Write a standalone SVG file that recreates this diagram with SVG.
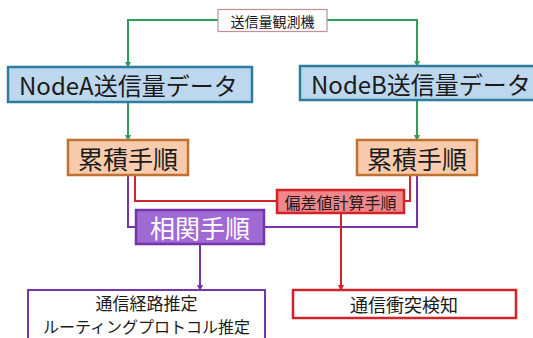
<svg xmlns="http://www.w3.org/2000/svg" width="533" height="338" viewBox="0 0 533 338">
<defs>
<style>
text{font-family:"Noto Sans CJK JP","Noto Sans",sans-serif;dominant-baseline:central;fill:#1a1a1a}
.c{text-anchor:middle}
.g{stroke:#2e9e5b;stroke-width:2;fill:none}
.r{stroke:#d32228;stroke-width:2;fill:none}
.p{stroke:#7535a8;stroke-width:2;fill:none}
.blue{fill:#bdd7ee;stroke:#2f7d9e;stroke-width:2.5}
.peach{fill:#f8cbad;stroke:#c0712f;stroke-width:2.5}
</style>
<marker id="ag" markerWidth="6" markerHeight="6" refX="5" refY="3" orient="auto" markerUnits="userSpaceOnUse"><path d="M0,0 L6,3 L0,6 z" fill="#2e9e5b"/></marker>
<marker id="ar" markerWidth="6" markerHeight="6" refX="5" refY="3" orient="auto" markerUnits="userSpaceOnUse"><path d="M0,0 L6,3 L0,6 z" fill="#d32228"/></marker>
<marker id="ap" markerWidth="6" markerHeight="6" refX="5" refY="3" orient="auto" markerUnits="userSpaceOnUse"><path d="M0,0 L6,3 L0,6 z" fill="#7535a8"/></marker>
</defs>
<rect width="533" height="338" fill="#ffffff"/>
<g id="connectors">
<path class="g" d="M218,20 H128 V67" marker-end="url(#ag)"/>
<path class="g" d="M327,20 H417 V66" marker-end="url(#ag)"/>
<path class="g" d="M128,102 V140" marker-end="url(#ag)"/>
<path class="g" d="M417,100 V140" marker-end="url(#ag)"/>
<path class="p" d="M128,175 V227 H136"/>
<path class="p" d="M417,175 V227 H264"/>
<path class="p" d="M200,244 V290" marker-end="url(#ap)"/>
<path class="r" d="M135,175 V201 H277"/>
<path class="r" d="M410,175 V201 H404"/>
<path class="r" d="M341,213 V290" marker-end="url(#ar)"/>
</g>
<g id="observer">
<rect x="218" y="9.5" width="109" height="22" fill="#ffffff" stroke="#c49090" stroke-width="1.2"/>
<text class="c" x="272.5" y="20.5" font-size="14">送信量観測機</text>
</g>
<g id="nodeA">
<rect class="blue" x="8" y="67" width="244" height="35"/>
<text x="19" y="84.5" font-size="24">NodeA送信量データ</text>
</g>
<g id="nodeB">
<rect class="blue" x="300" y="66" width="245" height="34"/>
<text x="311" y="83" font-size="24">NodeB送信量データ</text>
</g>
<g id="accumA">
<rect class="peach" x="68" y="140" width="120" height="35"/>
<text class="c" x="128" y="157.5" font-size="25">累積手順</text>
</g>
<g id="accumB">
<rect class="peach" x="357" y="140" width="120" height="35"/>
<text class="c" x="417" y="157.5" font-size="25">累積手順</text>
</g>
<g id="deviation">
<rect x="277" y="190" width="127" height="23" fill="#f2878b" stroke="#d32228" stroke-width="2.5"/>
<text class="c" x="340.5" y="201.5" font-size="16">偏差値計算手順</text>
</g>
<g id="correlation">
<rect x="136" y="210" width="128" height="34" fill="#a06ad4" stroke="#7535a8" stroke-width="2.5"/>
<text class="c" x="200" y="227" font-size="25" style="fill:#ffffff">相関手順</text>
</g>
<g id="route">
<rect x="28" y="290" width="237" height="60" fill="#ffffff" stroke="#7535a8" stroke-width="2"/>
<text class="c" x="146.5" y="302" font-size="17">通信経路推定</text>
<text class="c" x="146.5" y="326.3" font-size="16">ルーティングプロトコル推定</text>
</g>
<g id="collision">
<rect x="293" y="290" width="223" height="28" fill="#ffffff" stroke="#d32228" stroke-width="2.5"/>
<text class="c" x="404" y="304" font-size="18">通信衝突検知</text>
</g>
</svg>
